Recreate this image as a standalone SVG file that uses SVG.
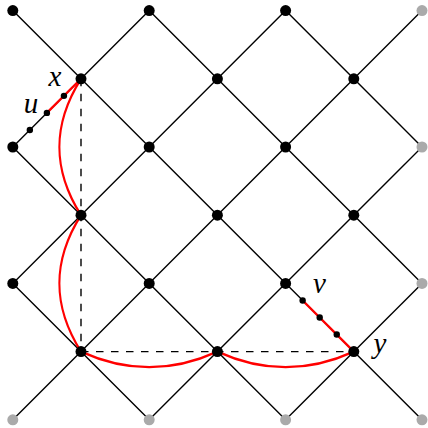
<svg xmlns="http://www.w3.org/2000/svg" width="428" height="428" viewBox="0 0 428 428">
<style>
.e{stroke:#000;stroke-width:1.4;fill:none;stroke-linecap:round}
.d{stroke:#000;stroke-width:1.4;fill:none;stroke-dasharray:7.5 7.5}
.r{stroke:#ff0000;stroke-width:2.3;fill:none;stroke-linecap:round}
.n{fill:#000}
.g{fill:#aaaaaa}
.lab{font-family:"Liberation Serif",serif;font-style:italic;font-size:29px;fill:#000;text-anchor:middle}
</style>
<rect width="428" height="428" fill="#fff"/>
<g id="connectors">
<line class="e" x1="12.8" y1="283.4" x2="149.2" y2="419.8"/>
<line class="e" x1="12.8" y1="147" x2="285.6" y2="419.8"/>
<line class="e" x1="12.8" y1="10.6" x2="422" y2="419.8"/>
<line class="e" x1="149.2" y1="10.6" x2="422" y2="283.4"/>
<line class="e" x1="285.6" y1="10.6" x2="422" y2="147"/>
<line class="e" x1="12.8" y1="147" x2="149.2" y2="10.6"/>
<line class="e" x1="12.8" y1="283.4" x2="285.6" y2="10.6"/>
<line class="e" x1="12.8" y1="419.8" x2="422" y2="10.6"/>
<line class="e" x1="149.2" y1="419.8" x2="422" y2="147"/>
<line class="e" x1="285.6" y1="419.8" x2="422" y2="283.4"/>
<line class="d" x1="81" y1="78.8" x2="81" y2="351.6"/>
<line class="d" x1="81" y1="351.6" x2="353.8" y2="351.6"/>
<path class="r" d="M81,78.8 C52,124.8 52,169.2 81,215.2"/>
<path class="r" d="M81,215.2 C52,261.2 52,305.6 81,351.6"/>
<path class="r" d="M81,351.6 C127,372.6 171.4,372.6 217.4,351.6"/>
<path class="r" d="M217.4,351.6 C263.4,372.6 307.8,372.6 353.8,351.6"/>
<path class="r" d="M46.9,112.9 L81,78.8"/>
<path class="r" d="M302.65,300.45 L353.8,351.6"/>
</g>
<g id="nodes">
<g id="n00"><circle class="n" cx="12.8" cy="10.6" r="5.5"/></g>
<g id="n20"><circle class="n" cx="149.2" cy="10.6" r="5.5"/></g>
<g id="n40"><circle class="n" cx="285.6" cy="10.6" r="5.5"/></g>
<g id="n60"><circle class="g" cx="422" cy="10.6" r="5.5"/></g>
<g id="x"><circle class="n" cx="81" cy="78.8" r="5.5"/><text class="lab" x="55" y="86">x</text></g>
<g id="n31"><circle class="n" cx="217.4" cy="78.8" r="5.5"/></g>
<g id="n51"><circle class="n" cx="353.8" cy="78.8" r="5.5"/></g>
<g id="n02"><circle class="n" cx="12.8" cy="147" r="5.5"/></g>
<g id="n22"><circle class="n" cx="149.2" cy="147" r="5.5"/></g>
<g id="n42"><circle class="n" cx="285.6" cy="147" r="5.5"/></g>
<g id="n62"><circle class="g" cx="422" cy="147" r="5.5"/></g>
<g id="n13"><circle class="n" cx="81" cy="215.2" r="5.5"/></g>
<g id="n33"><circle class="n" cx="217.4" cy="215.2" r="5.5"/></g>
<g id="n53"><circle class="n" cx="353.8" cy="215.2" r="5.5"/></g>
<g id="n04"><circle class="n" cx="12.8" cy="283.4" r="5.5"/></g>
<g id="n24"><circle class="n" cx="149.2" cy="283.4" r="5.5"/></g>
<g id="v"><circle class="n" cx="285.6" cy="283.4" r="5.5"/><text class="lab" x="319.5" y="292.5">v</text></g>
<g id="n64"><circle class="g" cx="422" cy="283.4" r="5.5"/></g>
<g id="n15"><circle class="n" cx="81" cy="351.6" r="5.5"/></g>
<g id="n35"><circle class="n" cx="217.4" cy="351.6" r="5.5"/></g>
<g id="y"><circle class="n" cx="353.8" cy="351.6" r="5.5"/><text class="lab" x="380" y="353">y</text></g>
<g id="n06"><circle class="g" cx="12.8" cy="419.8" r="5.5"/></g>
<g id="n26"><circle class="g" cx="149.2" cy="419.8" r="5.5"/></g>
<g id="n46"><circle class="g" cx="285.6" cy="419.8" r="5.5"/></g>
<g id="n66"><circle class="g" cx="422" cy="419.8" r="5.5"/></g>
<g id="u"><circle class="n" cx="29.85" cy="129.95" r="3.2"/><circle class="n" cx="46.9" cy="112.9" r="3.2"/><circle class="n" cx="63.95" cy="95.85" r="3.2"/><text class="lab" x="31" y="113">u</text></g>
<g id="vdots"><circle class="n" cx="302.65" cy="300.45" r="3.2"/><circle class="n" cx="319.7" cy="317.5" r="3.2"/><circle class="n" cx="336.75" cy="334.55" r="3.2"/></g>
</g>
</svg>
